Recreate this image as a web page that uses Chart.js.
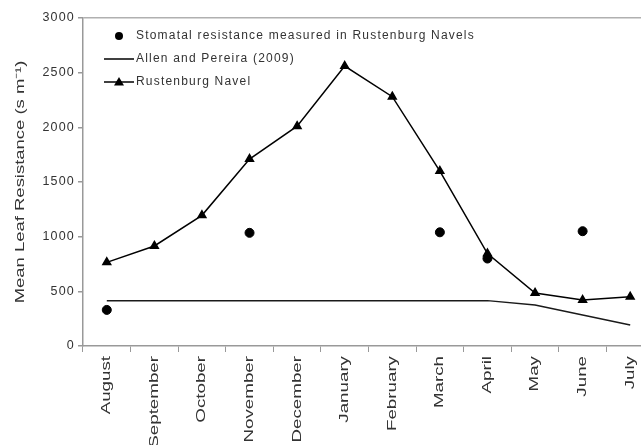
<!DOCTYPE html>
<html>
<head>
<meta charset="utf-8">
<script src="https://cdn.jsdelivr.net/npm/chart.js@4/dist/chart.umd.min.js"></script>
<style>
html, body { margin: 0; padding: 0; overflow: hidden; background: #fff; }
#wrap { position: relative; width: 660px; height: 445px; }
</style>
</head>
<body>
<div id="wrap"><canvas id="chart" width="660" height="445"></canvas></div>
<script>
// data
const months = ['August', 'September', 'October', 'November', 'December', 'January',
                'February', 'March', 'April', 'May', 'June', 'July'];
const measured = [330, null, null, 1035, null, null, null, 1040, 800, null, 1050, null];
const allenPereira = [415, 415, 415, 415, 415, 415, 415, 415, 415, 375, 283, 192];
const rustenburg = [765, 915, 1195, 1710, 2010, 2560, 2280, 1600, 845, 485, 420, 450];
const yTicks = [0, 500, 1000, 1500, 2000, 2500, 3000];
const yTitle = 'Mean Leaf Resistance (s m\u207B\u00B9)';

const FONT = '"Liberation Sans", Arial, sans-serif';
const TEXT = '#333';

// spread letters like the stretched original
const spacing = {
    id: 'spacing',
    beforeDraw(chart) { chart.ctx.letterSpacing = '1.2px'; }
};

// month labels and axis title, stretched along the text
const stretchedText = {
    id: 'stretchedText',
    afterDraw(chart) {
        const ctx = chart.ctx;
        const xs = chart.scales.x;
        const area = chart.chartArea;
        ctx.save();
        ctx.letterSpacing = '0px';
        ctx.fillStyle = TEXT;
        ctx.font = '12.5px ' + FONT;
        months.forEach((m, i) => {
            ctx.save();
            ctx.translate(xs.getPixelForValue(i), area.bottom + 10);
            ctx.rotate(-Math.PI / 2);
            ctx.scale(1.5, 1);
            ctx.textAlign = 'right';
            ctx.textBaseline = 'middle';
            ctx.fillText(m, 0, 0);
            ctx.restore();
        });
        ctx.save();
        ctx.translate(20, (area.top + area.bottom) / 2);
        ctx.rotate(-Math.PI / 2);
        ctx.scale(1.42, 1);
        ctx.textAlign = 'center';
        ctx.textBaseline = 'middle';
        ctx.font = '13px ' + FONT;
        ctx.fillText(yTitle, 0, 0);
        ctx.restore();
        ctx.restore();
    }
};

// legend inside the plot, Excel style
const legendBox = {
    id: 'legendBox',
    afterDraw(chart) {
        const ctx = chart.ctx;
        const rows = [
            { label: chart.data.datasets[2].label, kind: 'dot', y: 36 },
            { label: chart.data.datasets[0].label, kind: 'line', y: 59 },
            { label: chart.data.datasets[1].label, kind: 'tri', y: 82 }
        ];
        ctx.save();
        ctx.fillStyle = '#000';
        ctx.strokeStyle = '#000';
        ctx.lineWidth = 1.5;
        rows.forEach(r => {
            if (r.kind !== 'dot') {
                ctx.beginPath();
                ctx.moveTo(104, r.y);
                ctx.lineTo(134, r.y);
                ctx.stroke();
            }
            if (r.kind === 'dot') {
                ctx.beginPath();
                ctx.arc(119, r.y, 4, 0, Math.PI * 2);
                ctx.fill();
            }
            if (r.kind === 'tri') {
                ctx.beginPath();
                ctx.moveTo(119, r.y - 5);
                ctx.lineTo(124, r.y + 3.5);
                ctx.lineTo(114, r.y + 3.5);
                ctx.closePath();
                ctx.fill();
            }
            ctx.fillStyle = TEXT;
            ctx.font = '12px ' + FONT;
            ctx.textAlign = 'left';
            ctx.textBaseline = 'middle';
            ctx.fillText(r.label, 136, r.y);
            ctx.fillStyle = '#000';
        });
        ctx.restore();
    }
};

const chart = new Chart(document.getElementById('chart'), {
    type: 'line',
    data: {
        labels: months,
        datasets: [
            {
                label: 'Allen and Pereira (2009)',
                data: allenPereira,
                borderColor: '#1a1a1a',
                borderWidth: 1.5,
                pointRadius: 0,
                tension: 0
            },
            {
                label: 'Rustenburg Navel',
                data: rustenburg,
                borderColor: '#000',
                borderWidth: 1.5,
                pointStyle: 'triangle',
                pointRadius: 4.5,
                pointBackgroundColor: '#000',
                pointBorderColor: '#000',
                tension: 0
            },
            {
                label: 'Stomatal resistance measured in Rustenburg Navels',
                data: measured,
                showLine: false,
                pointStyle: 'circle',
                pointRadius: 4.5,
                pointBackgroundColor: '#000',
                pointBorderColor: '#000'
            }
        ]
    },
    options: {
        responsive: false,
        animation: false,
        layout: { padding: { top: 18, right: 6, left: 0, bottom: 0 } },
        plugins: {
            legend: { display: false },
            tooltip: { enabled: false }
        },
        scales: {
            x: {
                offset: true,
                grid: {
                    offset: true,
                    drawOnChartArea: false,
                    tickLength: 6,
                    tickColor: '#999'
                },
                border: { color: '#999', width: 1.5 },
                ticks: { display: false },
                afterFit: s => { s.height = 99; }
            },
            y: {
                min: 0,
                max: 3000,
                afterBuildTicks: s => { s.ticks = yTicks.map(v => ({ value: v })); },
                grid: {
                    color: c => c.tick && c.tick.value === 3000 ? '#b0b0b0' : 'rgba(0,0,0,0)',
                    lineWidth: 1.5,
                    tickLength: 5,
                    tickColor: '#999'
                },
                border: { color: '#999', width: 1.5 },
                ticks: {
                    color: TEXT,
                    font: { family: FONT, size: 12.5 },
                    padding: 3,
                    callback: v => String(v)
                },
                afterFit: s => { s.width = 83; }
            }
        }
    },
    plugins: [spacing, stretchedText, legendBox]
});
</script>
</body>
</html>
